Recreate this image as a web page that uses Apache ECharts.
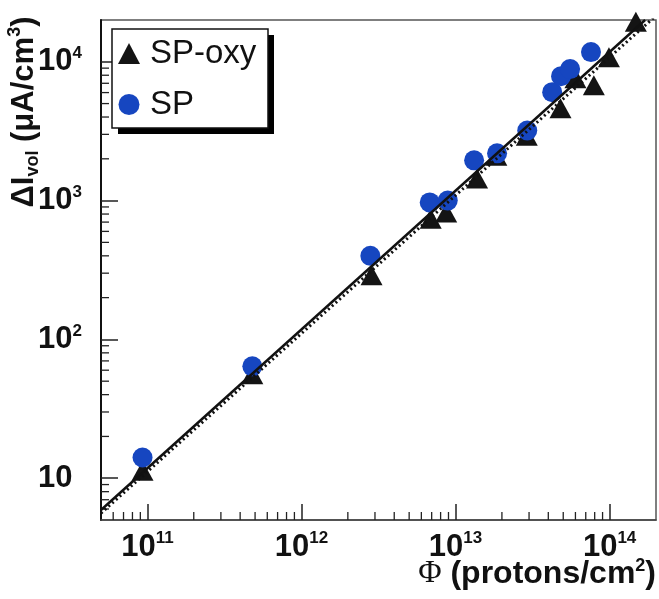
<!DOCTYPE html>
<html><head><meta charset="utf-8">
<script src="https://cdn.jsdelivr.net/npm/echarts@6/dist/echarts.min.js"></script>
<style>html,body{margin:0;padding:0;background:#fff}#c{width:659px;height:599px}</style>
</head><body><div id="c"></div>
<script>
// ---- data ----
const spOxyFluence = [9.3e10, 4.8e11, 2.85e12, 6.9e12, 8.7e12, 1.38e13, 1.84e13, 2.9e13, 4.8e13, 6.0e13, 7.9e13, 9.9e13, 1.48e14];
const spOxyCurrent = [11.3, 56, 290, 740, 820, 1440, 2100, 2930, 4630, 7600, 6780, 10800, 19400];
const spFluence = [9.3e10, 4.8e11, 2.8e12, 6.8e12, 8.9e12, 1.32e13, 1.86e13, 2.92e13, 4.24e13, 4.84e13, 5.54e13, 7.57e13];
const spCurrent = [14.1, 64, 400, 970, 1000, 1950, 2190, 3200, 6040, 7880, 8860, 11750];
const fitSolidFluence = [5e10, 1.7e14];
const fitSolidCurrent = [5.9, 20000];
const fitDottedFluence = [5e10, 2e14];
const fitDottedCurrent = [5.6, 21500];
const xRange = [5e10, 2e14];
const yRange = [5, 2e4];
const xMinorTicks = [6e10,7e10,8e10,9e10, 2e11,3e11,4e11,5e11,6e11,7e11,8e11,9e11, 2e12,3e12,4e12,5e12,6e12,7e12,8e12,9e12, 2e13,3e13,4e13,5e13,6e13,7e13,8e13,9e13];
const yMinorTicks = [6,7,8,9, 20,30,40,50,60,70,80,90, 200,300,400,500,600,700,800,900, 2000,3000,4000,5000,6000,7000,8000,9000];
const seriesNames = ['SP-oxy', 'SP'];

const pair = (xs, ys) => xs.map((x, i) => [x, ys[i]]);
const FONT = '"Liberation Sans", Arial, sans-serif';

function powLabel(v) {
  const e = Math.round(Math.log10(v));
  if (Math.abs(Math.log10(v) - e) > 1e-6) return '';
  if (e === 1) return '{b|10}';
  return '{b|10}{s|' + e + '}';
}
const labelRich = {
  b: { fontFamily: FONT, fontWeight: 'bold', fontSize: 31, color: '#111', lineHeight: 34 },
  s: { fontFamily: FONT, fontWeight: 'bold', fontSize: 17, color: '#111', verticalAlign: 'top', lineHeight: 20 }
};

function minorTicks(values, dir) {
  return {
    type: 'custom', silent: true, z: 3, clip: false,
    data: values.map(v => dir === 'x' ? [v, yRange[0]] : [xRange[0], v]),
    renderItem(params, api) {
      const p = api.coord([api.value(0), api.value(1)]);
      const len = 8;
      return {
        type: 'line',
        shape: dir === 'x' ? { x1: p[0], y1: p[1], x2: p[0], y2: p[1] - len }
                           : { x1: p[0], y1: p[1], x2: p[0] + len, y2: p[1] },
        style: { stroke: '#222', lineWidth: 1.3 }
      };
    }
  };
}

const chart = echarts.init(document.getElementById('c'), null, { renderer: 'canvas' });
chart.setOption({
  animation: false,
  backgroundColor: '#fff',
  grid: { left: 101, right: 3, top: 20, bottom: 79, show: true, borderColor: '#555', borderWidth: 1.5, backgroundColor: 'transparent' },
  xAxis: {
    type: 'log', logBase: 10, min: xRange[0], max: xRange[1],
    axisLine: { show: true, lineStyle: { color: '#444', width: 1.5 } },
    axisTick: { show: true, inside: true, length: 16, lineStyle: { color: '#222', width: 1.5 } },
    splitLine: { show: false },
    axisLabel: { margin: 10, formatter: powLabel, rich: labelRich, showMinLabel: false, showMaxLabel: false }
  },
  yAxis: {
    type: 'log', logBase: 10, min: yRange[0], max: yRange[1],
    axisLine: { show: true, lineStyle: { color: '#111', width: 2 } },
    axisTick: { show: true, inside: true, length: 17, lineStyle: { color: '#222', width: 1.5 } },
    splitLine: { show: false },
    axisLabel: { margin: 63, align: 'left', formatter: powLabel, rich: labelRich, showMinLabel: false, showMaxLabel: false }
  },
  legend: {
    orient: 'vertical', left: 112, top: 29, z: 10,
    data: [{ name: seriesNames[0], icon: 'triangle' }, { name: seriesNames[1], icon: 'circle' }],
    itemWidth: 22, itemHeight: 21, itemGap: 18,
    padding: [8, 10, 8, 6],
    backgroundColor: 'transparent', borderWidth: 0,
    textStyle: { fontFamily: FONT, fontSize: 33, color: '#111', padding: [0, 0, 0, 5] }
  },
  graphic: [
    { type: 'rect', z: 8, shape: { x: 118, y: 35, width: 156, height: 99 }, style: { fill: '#000' } },
    { type: 'rect', z: 9, shape: { x: 112, y: 29, width: 156, height: 99 }, style: { fill: '#fff', stroke: '#111', lineWidth: 1.5 } },
    {
      type: 'text', x: 656, y: 574,
      style: {
        text: '{phi|Φ}{a| (protons/cm}{sup|2}{a|)}',
        textAlign: 'right', textVerticalAlign: 'middle',
        rich: {
          phi: { fontFamily: '"Liberation Serif", serif', fontSize: 32, fill: '#111', lineHeight: 34 },
          a: { fontFamily: FONT, fontWeight: 'bold', fontSize: 32, fill: '#111', lineHeight: 34 },
          sup: { fontFamily: FONT, fontWeight: 'bold', fontSize: 18, fill: '#111', verticalAlign: 'top', lineHeight: 20 }
        }
      }
    },
    {
      type: 'text', x: 24, y: 112, rotation: Math.PI / 2,
      style: {
        text: '{a|ΔI}{sub|vol}{a| (μA/cm}{sup|3}{a|)}',
        textAlign: 'center', textVerticalAlign: 'middle',
        rich: {
          a: { fontFamily: FONT, fontWeight: 'bold', fontSize: 31, fill: '#111', lineHeight: 36 },
          sub: { fontFamily: FONT, fontWeight: 'bold', fontSize: 18, fill: '#111', verticalAlign: 'bottom', lineHeight: 20 },
          sup: { fontFamily: FONT, fontWeight: 'bold', fontSize: 18, fill: '#111', verticalAlign: 'top', lineHeight: 20 }
        }
      }
    }
  ],
  series: [
    minorTicks(xMinorTicks, 'x'),
    minorTicks(yMinorTicks, 'y'),
    {
      name: seriesNames[0], type: 'scatter', symbol: 'triangle', symbolSize: [22, 20], z: 4,
      itemStyle: { color: '#141414', opacity: 1 },
      data: pair(spOxyFluence, spOxyCurrent)
    },
    {
      name: seriesNames[1], type: 'scatter', symbol: 'circle', symbolSize: 20, z: 5,
      itemStyle: { color: '#1646c0', opacity: 1 },
      data: pair(spFluence, spCurrent)
    },
    {
      name: 'fit', type: 'line', symbol: 'none', z: 6, silent: true,
      lineStyle: { color: '#111', width: 2.5, type: 'solid' },
      data: pair(fitSolidFluence, fitSolidCurrent)
    },
    {
      name: 'fit2', type: 'line', symbol: 'none', z: 6, silent: true,
      lineStyle: { color: '#111', width: 3, type: [2, 3] },
      data: pair(fitDottedFluence, fitDottedCurrent)
    }
  ]
});
</script></body></html>
